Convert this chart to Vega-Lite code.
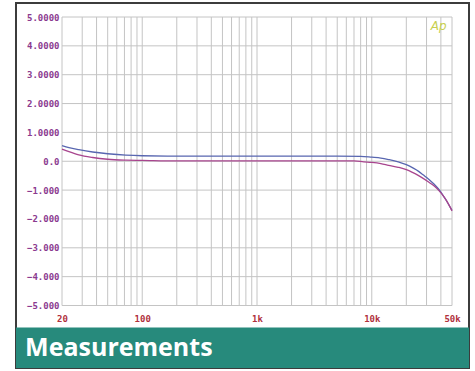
{
  "$schema": "https://vega.github.io/schema/vega-lite/v6.json",
  "width": 453,
  "height": 365,
  "autosize": {"type": "none"},
  "padding": {"left": 16, "top": 3, "right": 6, "bottom": 3},
  "background": "white",
  "config": {
    "view": {"stroke": "#3c3c3c", "strokeWidth": 2, "fill": "white"},
    "axisX": {"title": null, "domain": false, "ticks": false, "grid": false, "offset": -56, "labelPadding": 2, "labelFlush": false, "labelOverlap": false, "labelBound": false, "labelFont": "DejaVu Sans Mono", "labelFontWeight": "bold", "labelFontSize": 9, "labelColor": "#b0303c"},
    "axisY": {"title": null, "domain": false, "ticks": false, "grid": false, "offset": -46, "labelPadding": 3, "labelFlush": false, "labelOverlap": false, "labelBound": false, "labelFont": "DejaVu Sans Mono", "labelFontWeight": "bold", "labelFontSize": 9, "labelColor": "#8b3a8f"}
  },
  "datasets": {
    "gridx": [{"f": 20}, {"f": 30}, {"f": 40}, {"f": 50}, {"f": 60}, {"f": 70}, {"f": 80}, {"f": 90}, {"f": 100}, {"f": 200}, {"f": 300}, {"f": 400}, {"f": 500}, {"f": 600}, {"f": 700}, {"f": 800}, {"f": 900}, {"f": 1000}, {"f": 2000}, {"f": 3000}, {"f": 4000}, {"f": 5000}, {"f": 6000}, {"f": 7000}, {"f": 8000}, {"f": 9000}, {"f": 10000}, {"f": 20000}, {"f": 30000}, {"f": 40000}, {"f": 50000}],
    "gridy": [{"v": -5}, {"v": -4}, {"v": -3}, {"v": -2}, {"v": -1}, {"v": 0}, {"v": 1}, {"v": 2}, {"v": 3}, {"v": 4}, {"v": 5}],
    "curves": [
      {"ch": "A", "f": 20, "db": 0.54}, {"ch": "A", "f": 23, "db": 0.47}, {"ch": "A", "f": 28, "db": 0.40}, {"ch": "A", "f": 37, "db": 0.32}, {"ch": "A", "f": 50, "db": 0.26}, {"ch": "A", "f": 72, "db": 0.21}, {"ch": "A", "f": 100, "db": 0.19}, {"ch": "A", "f": 200, "db": 0.18}, {"ch": "A", "f": 500, "db": 0.18}, {"ch": "A", "f": 1000, "db": 0.18}, {"ch": "A", "f": 2000, "db": 0.18}, {"ch": "A", "f": 5000, "db": 0.18}, {"ch": "A", "f": 8000, "db": 0.17}, {"ch": "A", "f": 10000, "db": 0.14}, {"ch": "A", "f": 12000, "db": 0.11}, {"ch": "A", "f": 14000, "db": 0.06}, {"ch": "A", "f": 17000, "db": -0.02}, {"ch": "A", "f": 20000, "db": -0.12}, {"ch": "A", "f": 23000, "db": -0.24}, {"ch": "A", "f": 25600, "db": -0.35}, {"ch": "A", "f": 28000, "db": -0.47}, {"ch": "A", "f": 31500, "db": -0.63}, {"ch": "A", "f": 35000, "db": -0.80}, {"ch": "A", "f": 38300, "db": -0.97}, {"ch": "A", "f": 42000, "db": -1.20}, {"ch": "A", "f": 45000, "db": -1.38}, {"ch": "A", "f": 48300, "db": -1.60}, {"ch": "A", "f": 50000, "db": -1.70},
      {"ch": "B", "f": 20, "db": 0.42}, {"ch": "B", "f": 23, "db": 0.33}, {"ch": "B", "f": 28, "db": 0.22}, {"ch": "B", "f": 37, "db": 0.13}, {"ch": "B", "f": 50, "db": 0.07}, {"ch": "B", "f": 72, "db": 0.04}, {"ch": "B", "f": 100, "db": 0.03}, {"ch": "B", "f": 200, "db": 0.01}, {"ch": "B", "f": 500, "db": 0.01}, {"ch": "B", "f": 1000, "db": 0.01}, {"ch": "B", "f": 5000, "db": 0.01}, {"ch": "B", "f": 7000, "db": 0.01}, {"ch": "B", "f": 8500, "db": -0.02}, {"ch": "B", "f": 10000, "db": -0.04}, {"ch": "B", "f": 12000, "db": -0.08}, {"ch": "B", "f": 14000, "db": -0.14}, {"ch": "B", "f": 17000, "db": -0.21}, {"ch": "B", "f": 20000, "db": -0.29}, {"ch": "B", "f": 25600, "db": -0.50}, {"ch": "B", "f": 31500, "db": -0.73}, {"ch": "B", "f": 35000, "db": -0.86}, {"ch": "B", "f": 38300, "db": -1.01}, {"ch": "B", "f": 42000, "db": -1.20}, {"ch": "B", "f": 45000, "db": -1.38}, {"ch": "B", "f": 48300, "db": -1.60}, {"ch": "B", "f": 50000, "db": -1.72}
    ],
    "banner": [{"label": "Measurements", "fx": 9.54, "vy": -6.75, "top": -5.76, "bottom": -8}],
    "logo": [{"label": "Ap", "f": 38200, "v": 4.70}]
  },
  "layer": [
    {
      "data": {"name": "gridx"},
      "mark": {"type": "rule", "color": "#c4c4c4", "strokeWidth": 1},
      "encoding": {
        "x": {"field": "f", "type": "quantitative", "scale": {"type": "log", "domain": [20, 50000], "range": [46, 436], "nice": false},
          "axis": {"values": [20, 100, 1000, 10000, 50000], "labelExpr": "datum.value >= 1000 ? (datum.value / 1000) + 'k' : datum.value"}},
        "y": {"datum": -5, "type": "quantitative", "scale": {"domain": [-5, 5], "range": [302.5, 14], "nice": false, "zero": false},
          "axis": {"values": [-5, -4, -3, -2, -1, 0, 1, 2, 3, 4, 5], "labelExpr": "datum.value == 0 ? '0.0' : (datum.value > 0 ? format(datum.value, '.4f') : format(datum.value, '.3f'))"}},
        "y2": {"datum": 5}
      }
    },
    {
      "data": {"name": "gridy"},
      "mark": {"type": "rule", "color": "#c4c4c4", "strokeWidth": 1},
      "encoding": {
        "y": {"field": "v", "type": "quantitative", "scale": {"domain": [-5, 5], "range": [302.5, 14], "nice": false, "zero": false},
          "axis": {"values": [-5, -4, -3, -2, -1, 0, 1, 2, 3, 4, 5], "labelExpr": "datum.value == 0 ? '0.0' : (datum.value > 0 ? format(datum.value, '.4f') : format(datum.value, '.3f'))"}},
        "x": {"datum": 20, "type": "quantitative", "scale": {"type": "log", "domain": [20, 50000], "range": [46, 436], "nice": false},
          "axis": {"values": [20, 100, 1000, 10000, 50000], "labelExpr": "datum.value >= 1000 ? (datum.value / 1000) + 'k' : datum.value"}},
        "x2": {"datum": 50000}
      }
    },
    {
      "data": {"name": "curves"},
      "mark": {"type": "line", "strokeWidth": 1.3, "interpolate": "monotone"},
      "encoding": {
        "x": {"field": "f", "type": "quantitative", "scale": {"type": "log", "domain": [20, 50000], "range": [46, 436], "nice": false},
          "axis": {"values": [20, 100, 1000, 10000, 50000], "labelExpr": "datum.value >= 1000 ? (datum.value / 1000) + 'k' : datum.value"}},
        "y": {"field": "db", "type": "quantitative", "scale": {"domain": [-5, 5], "range": [302.5, 14], "nice": false, "zero": false},
          "axis": {"values": [-5, -4, -3, -2, -1, 0, 1, 2, 3, 4, 5], "labelExpr": "datum.value == 0 ? '0.0' : (datum.value > 0 ? format(datum.value, '.4f') : format(datum.value, '.3f'))"}},
        "color": {"field": "ch", "type": "nominal", "scale": {"domain": ["A", "B"], "range": ["#5866b0", "#a8458e"]}, "legend": null},
        "order": {"field": "f", "type": "quantitative"}
      }
    },
    {
      "data": {"name": "logo"},
      "mark": {"type": "text", "font": "DejaVu Sans", "fontStyle": "italic", "fontSize": 12, "color": "#c8cf50", "align": "center", "baseline": "middle"},
      "encoding": {
        "x": {"field": "f", "type": "quantitative", "scale": {"type": "log", "domain": [20, 50000], "range": [46, 436], "nice": false},
          "axis": {"values": [20, 100, 1000, 10000, 50000], "labelExpr": "datum.value >= 1000 ? (datum.value / 1000) + 'k' : datum.value"}},
        "y": {"field": "v", "type": "quantitative", "scale": {"domain": [-5, 5], "range": [302.5, 14], "nice": false, "zero": false},
          "axis": {"values": [-5, -4, -3, -2, -1, 0, 1, 2, 3, 4, 5], "labelExpr": "datum.value == 0 ? '0.0' : (datum.value > 0 ? format(datum.value, '.4f') : format(datum.value, '.3f'))"}},
        "text": {"field": "label"}
      }
    },
    {
      "data": {"name": "banner"},
      "mark": {"type": "rect", "color": "#278a7c", "clip": true},
      "encoding": {
        "y": {"field": "top", "type": "quantitative", "scale": {"domain": [-5, 5], "range": [302.5, 14], "nice": false, "zero": false},
          "axis": {"values": [-5, -4, -3, -2, -1, 0, 1, 2, 3, 4, 5], "labelExpr": "datum.value == 0 ? '0.0' : (datum.value > 0 ? format(datum.value, '.4f') : format(datum.value, '.3f'))"}},
        "y2": {"field": "bottom"}
      }
    },
    {
      "data": {"name": "banner"},
      "mark": {"type": "text", "font": "Open Sans", "fontWeight": "bold", "fontSize": 25, "color": "white", "align": "left", "baseline": "alphabetic"},
      "encoding": {
        "x": {"field": "fx", "type": "quantitative", "scale": {"type": "log", "domain": [20, 50000], "range": [46, 436], "nice": false},
          "axis": {"values": [20, 100, 1000, 10000, 50000], "labelExpr": "datum.value >= 1000 ? (datum.value / 1000) + 'k' : datum.value"}},
        "y": {"field": "vy", "type": "quantitative", "scale": {"domain": [-5, 5], "range": [302.5, 14], "nice": false, "zero": false},
          "axis": {"values": [-5, -4, -3, -2, -1, 0, 1, 2, 3, 4, 5], "labelExpr": "datum.value == 0 ? '0.0' : (datum.value > 0 ? format(datum.value, '.4f') : format(datum.value, '.3f'))"}},
        "text": {"field": "label"}
      }
    }
  ]
}
